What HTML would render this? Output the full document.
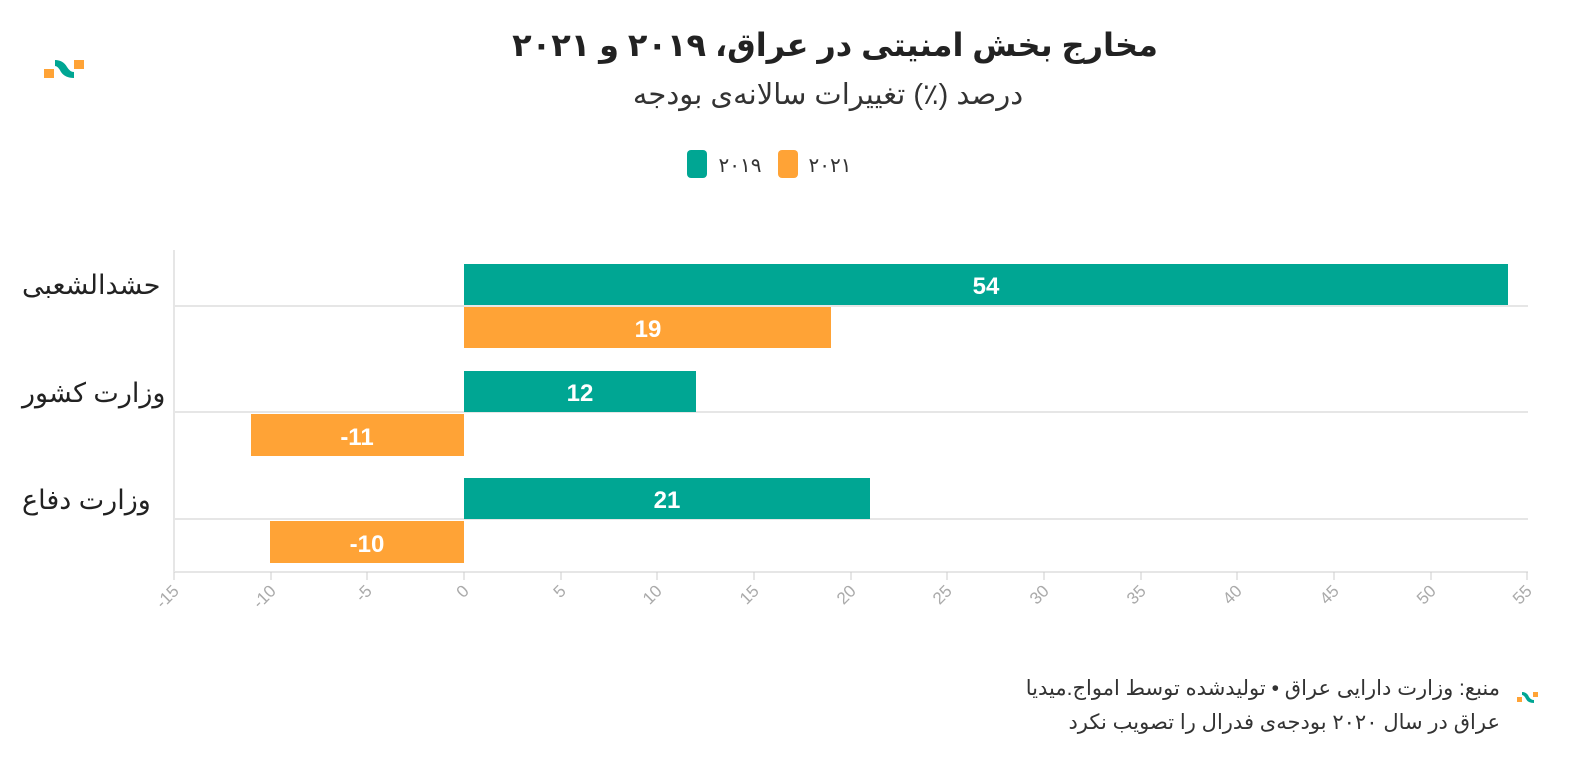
<!DOCTYPE html>
<html><head><meta charset="utf-8"><style>
body{margin:0;background:#fff;width:1592px;height:770px;overflow:hidden}
text{font-family:"Liberation Sans","DejaVu Sans",sans-serif}
</style></head><body>
<svg width="1592" height="770" xmlns="http://www.w3.org/2000/svg">
<g>
<rect x="44" y="69" width="10" height="9" fill="#ffa336"/>
<path d="M55 60 Q63 60 67 67 Q70 72 74 72 L74 78 Q65 78 61 72 Q58 66 55 66Z" fill="#00a693"/>
<rect x="74" y="60" width="10" height="9" fill="#ffa336"/>
</g>
<text x="835" y="56" text-anchor="middle" font-size="32" font-weight="bold" fill="#222">مخارج بخش امنیتی در عراق، ۲۰۱۹ و ۲۰۲۱</text>
<text x="828" y="104" text-anchor="middle" font-size="29" fill="#333">درصد (٪) تغییرات سالانه‌ی بودجه</text>
<rect x="687" y="150" width="20" height="28" rx="4" fill="#00a693"/>
<text x="740" y="172" text-anchor="middle" font-size="20" fill="#333">۲۰۱۹</text>
<rect x="778" y="150" width="20" height="28" rx="4" fill="#ffa336"/>
<text x="830" y="172" text-anchor="middle" font-size="20" fill="#333">۲۰۲۱</text>
<g stroke="#e6e6e6" stroke-width="2">
<line x1="174" y1="250" x2="174" y2="572"/>
<line x1="174" y1="306" x2="1528" y2="306"/>
<line x1="174" y1="412" x2="1528" y2="412"/>
<line x1="174" y1="519" x2="1528" y2="519"/>
<line x1="174" y1="572" x2="1528" y2="572"/>
</g>
<g stroke="#ccc" stroke-width="1">
<line x1="174" y1="572" x2="174" y2="580"/><line x1="271" y1="572" x2="271" y2="580"/><line x1="367" y1="572" x2="367" y2="580"/><line x1="464" y1="572" x2="464" y2="580"/><line x1="561" y1="572" x2="561" y2="580"/><line x1="657" y1="572" x2="657" y2="580"/><line x1="754" y1="572" x2="754" y2="580"/><line x1="851" y1="572" x2="851" y2="580"/><line x1="947" y1="572" x2="947" y2="580"/><line x1="1044" y1="572" x2="1044" y2="580"/><line x1="1141" y1="572" x2="1141" y2="580"/><line x1="1237" y1="572" x2="1237" y2="580"/><line x1="1334" y1="572" x2="1334" y2="580"/><line x1="1431" y1="572" x2="1431" y2="580"/><line x1="1527" y1="572" x2="1527" y2="580"/>
</g>
<g fill="#aaa" font-size="17" text-anchor="end">
<text transform="translate(180,592) rotate(-45)">&#x200E;-15</text>
<text transform="translate(277,592) rotate(-45)">&#x200E;-10</text>
<text transform="translate(373,592) rotate(-45)">&#x200E;-5</text>
<text transform="translate(470,592) rotate(-45)">0</text>
<text transform="translate(567,592) rotate(-45)">5</text>
<text transform="translate(663,592) rotate(-45)">10</text>
<text transform="translate(760,592) rotate(-45)">15</text>
<text transform="translate(857,592) rotate(-45)">20</text>
<text transform="translate(953,592) rotate(-45)">25</text>
<text transform="translate(1050,592) rotate(-45)">30</text>
<text transform="translate(1147,592) rotate(-45)">35</text>
<text transform="translate(1243,592) rotate(-45)">40</text>
<text transform="translate(1340,592) rotate(-45)">45</text>
<text transform="translate(1437,592) rotate(-45)">50</text>
<text transform="translate(1533,592) rotate(-45)">55</text>
</g>
<rect x="464" y="264" width="1044" height="41" fill="#00a693"/>
<rect x="464" y="307" width="367" height="41" fill="#ffa336"/>
<rect x="464" y="371" width="232" height="41" fill="#00a693"/>
<rect x="251" y="414" width="213" height="42" fill="#ffa336"/>
<rect x="464" y="478" width="406" height="41" fill="#00a693"/>
<rect x="270" y="521" width="194" height="42" fill="#ffa336"/>
<g fill="#fff" font-size="24" font-weight="bold" text-anchor="middle">
<text x="986" y="294">54</text>
<text x="648" y="337">19</text>
<text x="580" y="401">12</text>
<text x="357" y="445">&#x200E;-11</text>
<text x="667" y="508">21</text>
<text x="367" y="552">&#x200E;-10</text>
</g>
<g fill="#222" font-size="27" text-anchor="start">
<text x="22" y="294">حشدالشعبی</text>
<text x="22" y="402">وزارت کشور</text>
<text x="22" y="509">وزارت دفاع</text>
</g>
<g fill="#333" font-size="21" text-anchor="end">
<text x="1500" y="695">منبع: وزارت دارایی عراق • تولیدشده توسط امواج.میدیا</text>
<text x="1500" y="729">عراق در سال ۲۰۲۰ بودجه‌ی فدرال را تصویب نکرد</text>
</g>
<g>
<rect x="1517" y="697" width="5" height="5" fill="#ffa336"/>
<path d="M1522 692 Q1527 692 1529 697 Q1531 700 1534 700 L1534 703 Q1528 703 1526 699 Q1524 695 1522 695Z" fill="#00a693"/>
<rect x="1533" y="692" width="5" height="5" fill="#ffa336"/>
</g>
</svg>
</body></html>
